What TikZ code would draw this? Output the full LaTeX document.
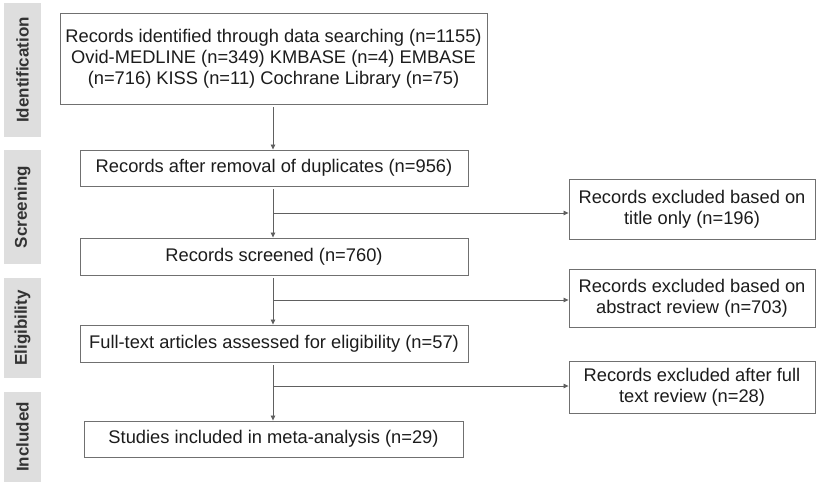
\documentclass[tikz,border=0pt]{standalone}
\usepackage{fontspec}
\setmainfont{Liberation Sans}
\usetikzlibrary{arrows.meta}
\definecolor{barfill}{HTML}{DEDEDE}
\definecolor{boxline}{HTML}{707070}
\definecolor{conn}{HTML}{606060}
\definecolor{ink}{HTML}{1C1C1C}
\tikzset{
  stagebar/.style={fill=barfill, draw=none},
  stagetext/.style={rotate=90, font=\fontsize{17}{20}\selectfont\bfseries, text=ink!90},
  flowbox/.style={draw=boxline, line width=0.9pt, fill=white, text=ink, align=center,
    inner sep=0pt, font=\fontsize{18.3}{21}\selectfont},
  arr/.style={draw=conn, line width=0.8pt, -{Triangle[length=5pt,width=4.5pt]}},
}
\begin{document}
\begin{tikzpicture}[x=1pt,y=-1pt]
\useasboundingbox (0,0) rectangle (816,482);
% stage bars on the left
\fill[stagebar] (4,3) rectangle (41,137);
\fill[stagebar] (4,150) rectangle (41,264);
\fill[stagebar] (4,278) rectangle (41,378);
\fill[stagebar] (4,392) rectangle (41,482);
\node[stagetext] (sI) at (22.5,70) {Identification};
\node[stagetext] (sS) at (22.5,207) {Screening};
\node[stagetext] (sE) at (22.5,328) {Eligibility};
\node[stagetext] (sN) at (22.5,437) {Included};
% main column
\node[flowbox, minimum width=427, minimum height=91] (b1) at (273.5,58.5)
  {Records identified through data searching (n=1155)\\Ovid-MEDLINE (n=349) KMBASE (n=4) EMBASE\\(n=716) KISS (n=11) Cochrane Library (n=75)};
\node[flowbox, minimum width=388, minimum height=36] (b2) at (274,168)
  {Records after removal of duplicates (n=956)};
\node[flowbox, minimum width=388, minimum height=37] (b3) at (274,256.5)
  {Records screened (n=760)};
\node[flowbox, minimum width=388, minimum height=37] (b4) at (274,343.5)
  {Full-text articles assessed for eligibility (n=57)};
\node[flowbox, minimum width=379, minimum height=36] (b5) at (273.5,439)
  {Studies included in meta-analysis (n=29)};
% exclusion column
\node[flowbox, minimum width=246, minimum height=60] (e1) at (692,209)
  {Records excluded based on\\title only (n=196)};
\node[flowbox, minimum width=246, minimum height=58] (e2) at (692,298)
  {Records excluded based on\\abstract review (n=703)};
\node[flowbox, minimum width=246, minimum height=52] (e3) at (692,387)
  {Records excluded after full\\text review (n=28)};
% junctions on the main line
\coordinate (j1) at (273,213);
\coordinate (j2) at (273,300);
\coordinate (j3) at (273,386);
% connectors
\draw[arr, shorten <=3pt] (b1.south -| j1) -- (b2.north -| j1);
\draw[arr, shorten <=3pt] (b2.south -| j1) -- (b3.north -| j1);
\draw[arr, shorten <=3pt] (b3.south -| j2) -- (b4.north -| j2);
\draw[arr, shorten <=3pt] (b4.south -| j3) -- (b5.north -| j3);
\draw[arr] (j1) -- (j1 -| e1.west);
\draw[arr] (j2) -- (j2 -| e2.west);
\draw[arr] (j3) -- (j3 -| e3.west);
\end{tikzpicture}
\end{document}
